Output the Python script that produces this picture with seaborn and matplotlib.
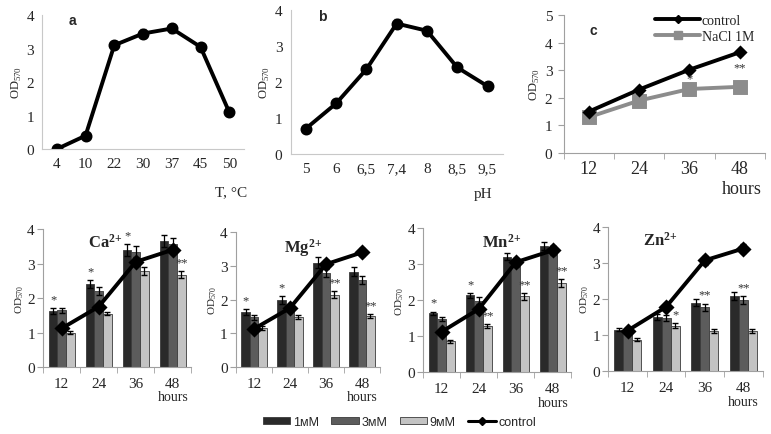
"""Growth (OD570) vs temperature, pH, NaCl and metal ions"""

import numpy as np
import pandas as pd
import matplotlib.pyplot as plt
import seaborn as sns
from matplotlib.lines import Line2D
from matplotlib.patches import Patch

sns.set_style('white')
plt.rcParams['font.family'] = ['Liberation Serif', 'DejaVu Serif']
plt.rcParams['mathtext.fontset'] = 'custom'
plt.rcParams['mathtext.rm'] = 'Liberation Serif'
plt.rcParams['mathtext.bf'] = 'Liberation Serif:bold'

# panel a - temperature
temp_labels = ['4', '10', '22', '30', '37', '45', '50']
temp_od = [0.0, 0.4, 3.1, 3.45, 3.6, 3.05, 1.1]
temp_err = [0.02, 0.04, 0.1, 0.13, 0.12, 0.1, 0.04]

# panel b - pH
ph_labels = ['5', '6', '6,5', '7,4', '8', '8,5', '9,5']
ph_od = [0.7, 1.4, 2.35, 3.62, 3.42, 2.4, 1.88]
ph_err = [0.03, 0.04, 0.07, 0.13, 0.1, 0.05, 0.04]

# panel c - NaCl
hours = ['12', '24', '36', '48']
ctrl_c = [1.5, 2.3, 3.02, 3.65]
ctrl_c_err = [0.06, 0.07, 0.09, 0.1]
nacl = [1.3, 1.9, 2.32, 2.4]
nacl_err = [0.15, 0.2, 0.22, 0.2]

# metal ion panels
conc_labels = ['1мМ', '3мМ', '9мМ']
ion_names = ['Ca', 'Mg', 'Mn', 'Zn']

ca_1 = [1.63, 2.4, 3.4, 3.65]
ca_3 = [1.65, 2.2, 3.35, 3.58]
ca_9 = [1.0, 1.55, 2.78, 2.68]
ca_ctrl = [1.12, 1.75, 3.05, 3.4]

mg_1 = [1.63, 1.98, 3.1, 2.83]
mg_3 = [1.47, 1.75, 2.8, 2.57]
mg_9 = [1.15, 1.47, 2.15, 1.5]
mg_ctrl = [1.13, 1.75, 3.05, 3.4]

mn_1 = [1.63, 2.13, 3.2, 3.5]
mn_3 = [1.48, 1.98, 3.05, 3.4]
mn_9 = [0.85, 1.28, 2.1, 2.47]
mn_ctrl = [1.12, 1.75, 3.05, 3.38]

zn_1 = [1.15, 1.5, 1.9, 2.08]
zn_3 = [1.13, 1.47, 1.77, 1.97]
zn_9 = [0.87, 1.25, 1.1, 1.1]
zn_ctrl = [1.12, 1.78, 3.07, 3.4]

# errors (1mM, 3mM, 9mM)
ca_err = [[0.08, 0.12, 0.17, 0.17], [0.07, 0.12, 0.15, 0.15], [0.05, 0.05, 0.12, 0.1]]
mg_err = [[0.08, 0.12, 0.15, 0.14], [0.08, 0.1, 0.12, 0.12], [0.06, 0.06, 0.1, 0.06]]
mn_err = [[0.05, 0.07, 0.1, 0.12], [0.05, 0.1, 0.1, 0.1], [0.05, 0.06, 0.1, 0.12]]
zn_err = [[0.05, 0.08, 0.1, 0.12], [0.05, 0.07, 0.1, 0.1], [0.04, 0.07, 0.06, 0.06]]
ctrl_err = [0.06, 0.07, 0.12, 0.12]

# significance marks: (hour index, concentration index, text)
ca_marks = [(0, 0, '*'), (1, 0, '*'), (2, 0, '*'), (3, 2, '**')]
mg_marks = [(0, 0, '*'), (1, 0, '*'), (2, 2, '**'), (3, 2, '**')]
mn_marks = [(0, 0, '*'), (1, 0, '*'), (1, 2, '**'), (2, 2, '**'), (3, 2, '**')]
zn_marks = [(1, 2, '*'), (2, 1, '**'), (3, 1, '**')]

bar_colors = ['#2a2a2a', '#5c5c5c', '#c3c3c3']
axis_grey = '#a0a0a0'

fig = plt.figure(figsize=(7.71, 4.35), dpi=100)


def style_top(ax, ticks_out):
    for s in ['top', 'right']:
        ax.spines[s].set_visible(False)
    for s in ['left', 'bottom']:
        ax.spines[s].set_color(axis_grey if ticks_out else '#c8c8c8')
        ax.spines[s].set_linewidth(0.8)
    ax.tick_params(axis='both', labelsize=11, length=0, pad=6)
    ax.set_xlabel('')
    ax.set_ylabel('OD$_{570}$', fontsize=9, labelpad=2)


def line_panel(ax, labels, vals, errs, letter):
    sns.pointplot(x=labels, y=vals, color='black', markers='o', markersize=6.5,
                  linewidth=2.8, errorbar=None, ax=ax)
    ax.errorbar(np.arange(len(vals)), vals, yerr=errs, fmt='none',
                ecolor='#555555', elinewidth=0.8, capsize=2.5, zorder=1)
    ax.set_ylim(0, 4)
    ax.set_yticks([0, 1, 2, 3, 4])
    ax.set_xlim(-0.5, len(labels) - 0.5)
    style_top(ax, False)
    ax.text(0.13, 0.93, letter, transform=ax.transAxes, family='Liberation Sans',
            fontweight='bold', fontsize=10)
    return ax


# --- panel a
ax_a = fig.add_axes([0.055, 0.655, 0.261, 0.308])
line_panel(ax_a, temp_labels, temp_od, temp_err, 'a')
fig.text(0.32, 0.558, 'T, °C', ha='right', va='center', fontsize=11)

# --- panel b
ax_b = fig.add_axes([0.377, 0.644, 0.275, 0.331])
line_panel(ax_b, ph_labels, ph_od, ph_err, 'b')
fig.text(0.627, 0.553, 'pH', ha='center', va='center', fontsize=11)

# --- panel c
ax_c = fig.add_axes([0.731, 0.646, 0.261, 0.317])
sns.pointplot(x=hours, y=nacl, color='#8c8c8c', markers='s', markersize=9,
              linewidth=2.8, errorbar=None, ax=ax_c)
ax_c.errorbar(np.arange(4), nacl, yerr=nacl_err, fmt='none', ecolor='black',
              elinewidth=0.9, capsize=3, zorder=1)
sns.pointplot(x=hours, y=ctrl_c, color='black', markers='D', markersize=5,
              linewidth=2.8, errorbar=None, ax=ax_c)
ax_c.errorbar(np.arange(4), ctrl_c, yerr=ctrl_c_err, fmt='none', ecolor='black',
              elinewidth=0.9, capsize=2.5, zorder=5)
ax_c.set_ylim(0, 5)
ax_c.set_yticks([0, 1, 2, 3, 4, 5])
ax_c.set_xlim(-0.5, 3.5)
style_top(ax_c, True)
ax_c.set_xticks([-0.5, 0.5, 1.5, 2.5, 3.5], minor=True)
ax_c.tick_params(axis='x', which='minor', length=4, color=axis_grey, direction='out', bottom=True)
ax_c.tick_params(axis='y', length=4, color=axis_grey, direction='out', left=True, pad=4)
ax_c.tick_params(axis='x', labelsize=13, pad=5)
ax_c.text(0.13, 0.86, 'c', transform=ax_c.transAxes, family='Liberation Sans',
          fontweight='bold', fontsize=10)
ax_c.text(2, nacl[2] + nacl_err[2] + 0.05, '*', ha='center', fontsize=9, color='#333333')
ax_c.text(3, nacl[3] + nacl_err[3] + 0.4, '**', ha='center', fontsize=9, color='#333333')
fig.text(0.962, 0.565, 'hours', ha='center', va='center', fontsize=13)
c_handles = [Line2D([0], [0], color='black', lw=2.8, marker='D', markersize=4),
             Line2D([0], [0], color='#8c8c8c', lw=2.8, marker='s', markersize=6)]
ax_c.legend(c_handles, ['control', 'NaCl 1M'], loc='upper right', frameon=False,
            fontsize=10, handlelength=3.3, handletextpad=0.1, labelspacing=0.2,
            bbox_to_anchor=(0.975, 1.05), borderaxespad=0)

# --- ion bar panels
ion_bars = {'Ca': [ca_1, ca_3, ca_9], 'Mg': [mg_1, mg_3, mg_9],
            'Mn': [mn_1, mn_3, mn_9], 'Zn': [zn_1, zn_3, zn_9]}
ion_ctrl = {'Ca': ca_ctrl, 'Mg': mg_ctrl, 'Mn': mn_ctrl, 'Zn': zn_ctrl}
ion_err = {'Ca': ca_err, 'Mg': mg_err, 'Mn': mn_err, 'Zn': zn_err}
ion_marks = {'Ca': ca_marks, 'Mg': mg_marks, 'Mn': mn_marks, 'Zn': zn_marks}
ion_pos = {'Ca': [0.056, 0.154, 0.192, 0.317], 'Mg': [0.306, 0.154, 0.187, 0.31],
           'Mn': [0.549, 0.1425, 0.192, 0.331], 'Zn': [0.789, 0.145, 0.2, 0.331]}
title_x = {'Ca': 0.42, 'Mg': 0.47, 'Mn': 0.53, 'Zn': 0.34}

for ion in ion_names:
    ax = fig.add_axes(ion_pos[ion])
    vals = ion_bars[ion]
    df = pd.DataFrame({'hours': hours * 3,
                       'od': vals[0] + vals[1] + vals[2],
                       'conc': [c for c in conc_labels for _ in hours]})
    sns.barplot(data=df, x='hours', y='od', hue='conc', palette=bar_colors,
                width=0.7, errorbar=None, edgecolor='#3a3a3a', linewidth=0.6,
                legend=False, ax=ax)
    bar_conts = list(ax.containers)
    tops = []
    for k, cont in enumerate(bar_conts):
        xs = [b.get_x() + b.get_width() / 2 for b in cont]
        hs = [b.get_height() for b in cont]
        ax.errorbar(xs, hs, yerr=ion_err[ion][k], fmt='none', ecolor='black',
                    elinewidth=0.9, capsize=2.2, zorder=3)
        tops.append((xs, hs))
    sns.pointplot(x=hours, y=ion_ctrl[ion], color='black', markers='D', markersize=6,
                  linewidth=2.8, errorbar=None, ax=ax)
    ax.errorbar(np.arange(4), ion_ctrl[ion], yerr=ctrl_err, fmt='none', ecolor='black',
                elinewidth=0.9, capsize=2.5, zorder=5)
    for h, c, txt in ion_marks[ion]:
        xs, hs = tops[c]
        ax.text(xs[h], hs[h] + ion_err[ion][c][h] + 0.08, txt, ha='center',
                va='bottom', fontsize=9, color='#333333')
    ax.set_ylim(0, 4)
    ax.set_yticks([0, 1, 2, 3, 4])
    ax.set_xlim(-0.5, 3.5)
    ax.set_xlabel('')
    ax.set_ylabel('OD$_{570}$', fontsize=8, labelpad=1)
    for s in ['top', 'right']:
        ax.spines[s].set_visible(False)
    for s in ['left', 'bottom']:
        ax.spines[s].set_color(axis_grey)
        ax.spines[s].set_linewidth(0.8)
    ax.set_xticks([-0.5, 0.5, 1.5, 2.5, 3.5], minor=True)
    ax.tick_params(axis='x', which='major', length=0, labelsize=11, pad=7)
    ax.tick_params(axis='x', which='minor', length=4, color=axis_grey,
                   direction='out', bottom=True)
    ax.tick_params(axis='y', length=4, color=axis_grey, direction='out', left=True,
                   labelsize=11, pad=2)
    ax.text(title_x[ion], 0.97, r'$\mathbf{%s^{2\!+}}$' % ion, transform=ax.transAxes,
            ha='center', va='top', fontsize=12)
    ax.text(3, -0.68, 'hours', ha='center', va='top', fontsize=10)

# --- shared legend
leg_handles = [Patch(facecolor=bar_colors[0], edgecolor='#3a3a3a', linewidth=0.6),
               Patch(facecolor=bar_colors[1], edgecolor='#3a3a3a', linewidth=0.6),
               Patch(facecolor=bar_colors[2], edgecolor='#3a3a3a', linewidth=0.6),
               Line2D([0], [0], color='black', lw=2.2, marker='D', markersize=4)]
fig.legend(leg_handles, conc_labels + ['control'], loc='center', ncol=4,
           bbox_to_anchor=(0.518, 0.027), frameon=False, handlelength=2.2,
           handleheight=0.5, handletextpad=0.2, columnspacing=1.0,
           prop={'family': 'Liberation Sans', 'size': 9})

plt.savefig('out.png', dpi=100)
